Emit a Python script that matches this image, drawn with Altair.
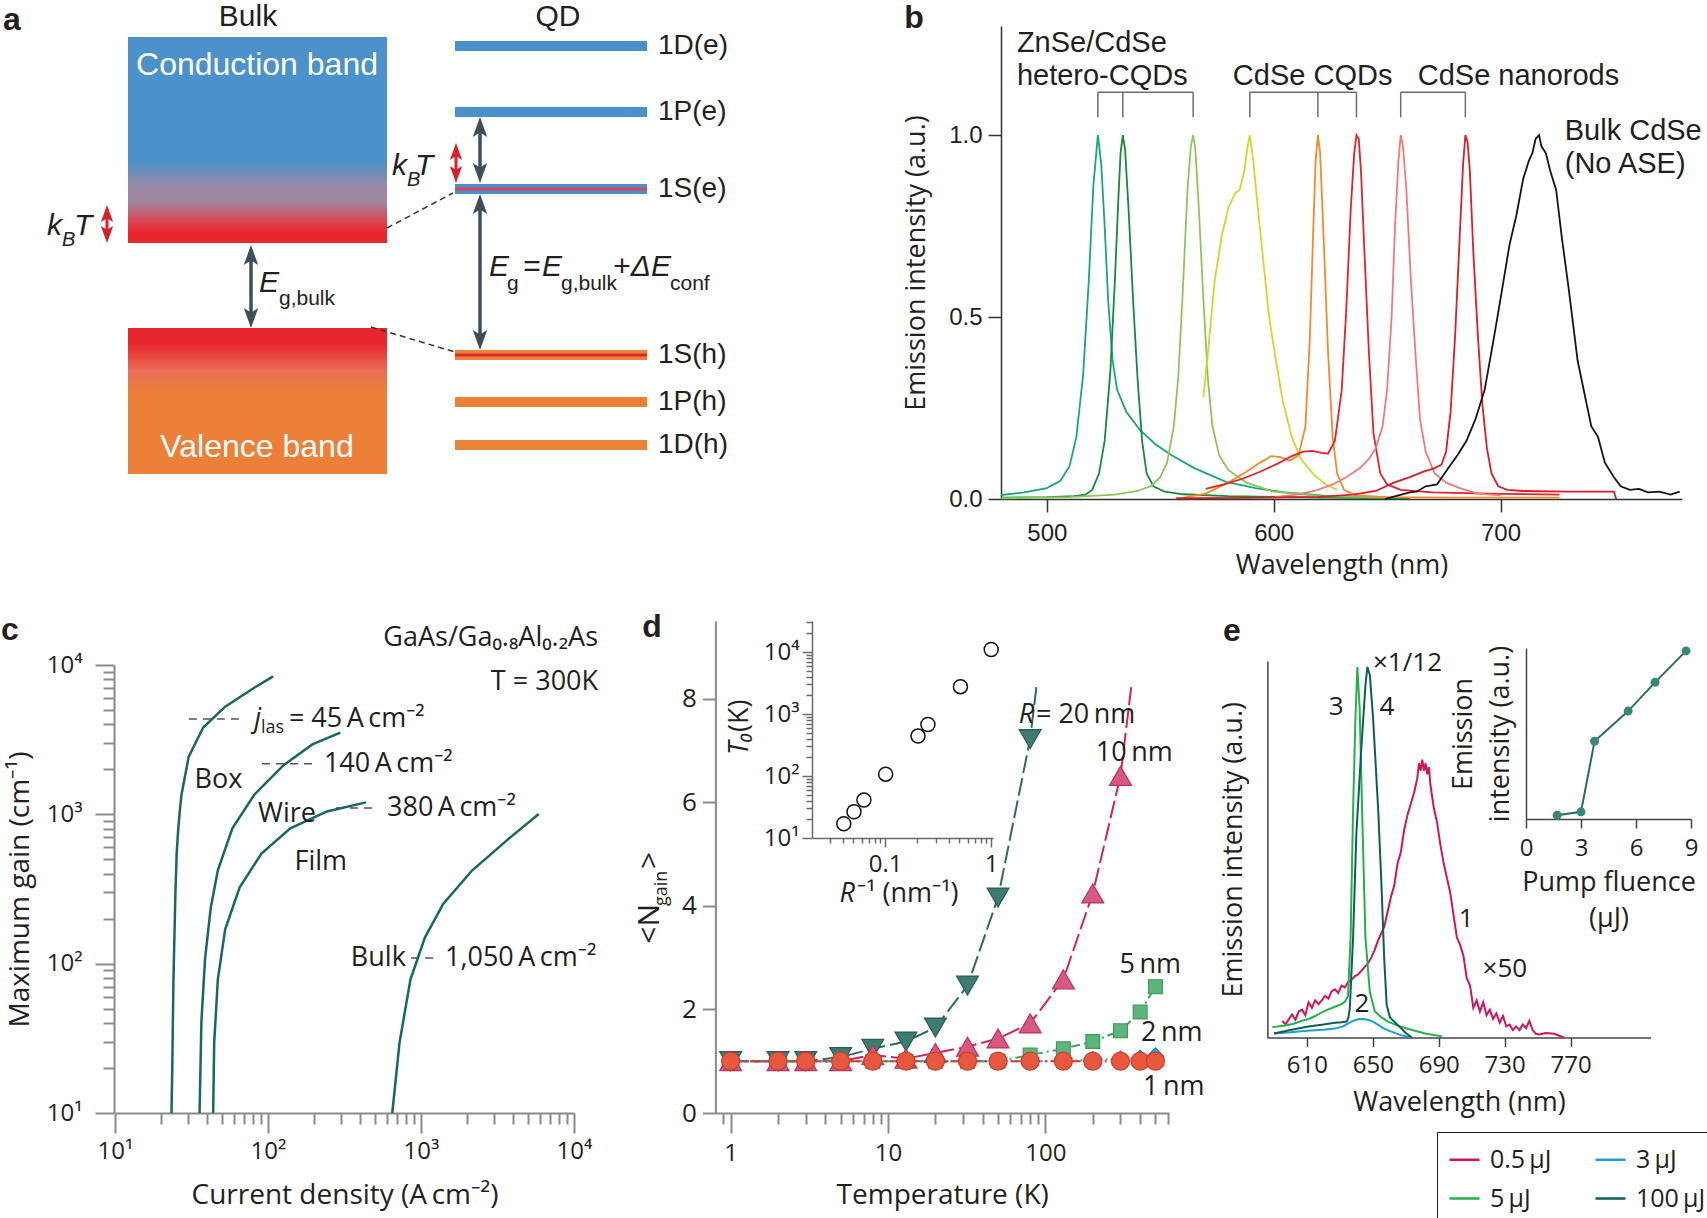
import altair as alt
import pandas as pd

W, H = 1707, 1218
ARIAL = "Liberation Sans, Arial, sans-serif"
HUMAN = "Open Sans, Noto Sans, DejaVu Sans, sans-serif"
INK = "#231f20"
THIN = "\u2009"

# ---------------- b: normalised emission spectra ----------------
b_names = ["ZnSe/CdSe 1", "ZnSe/CdSe 2", "ZnSe/CdSe 3", "CdSe CQD 1", "CdSe CQD 2",
           "CdSe CQD 3", "CdSe rod 1", "CdSe rod 2", "Bulk CdSe"]
b_colors = ["#17a77b", "#168a3b", "#8cc65a", "#d4d52c", "#f5892c",
            "#e2222b", "#f27a76", "#dc1d26", "#151515"]
b1_wl = [480, 490, 500, 506, 510, 513, 516, 518.5, 520.5, 522.5, 524, 525.5, 527, 529, 531, 535,
         541, 548, 555, 565, 579, 592, 604, 628, 660]
b1_int = [0.011, 0.018, 0.03, 0.05, 0.09, 0.17, 0.34, 0.6, 0.86, 1.0, 0.92, 0.75, 0.55, 0.38, 0.3,
          0.24, 0.19, 0.15, 0.12, 0.085, 0.047, 0.03, 0.019, 0.006, 0.003]
b2_wl = [480, 500, 512, 517, 520, 523, 525.5, 528, 530, 531.5, 532.5, 533.5, 534.5, 536, 538, 540,
         542, 544, 547, 552, 560, 580, 620, 660]
b2_int = [0.004, 0.005, 0.008, 0.012, 0.025, 0.07, 0.16, 0.35, 0.6, 0.82, 0.95, 1.0, 0.96, 0.8,
          0.55, 0.33, 0.16, 0.07, 0.035, 0.02, 0.013, 0.008, 0.004, 0.002]
b3_wl = [480, 510, 530, 540, 546, 550, 553, 556, 558, 560, 562, 563.5, 564.5, 565.5, 567, 569, 571,
         573, 576, 580, 588, 600, 620, 650]
b3_int = [0.002, 0.005, 0.012, 0.022, 0.036, 0.06, 0.1, 0.2, 0.34, 0.58, 0.85, 0.97, 1.0, 0.96,
          0.8, 0.55, 0.33, 0.2, 0.12, 0.08, 0.045, 0.02, 0.008, 0.004]
b4_wl = [569, 571, 574, 577, 580, 583, 585, 587, 588.5, 589.5, 591, 593, 595, 598, 601, 604, 608,
         612, 618, 623, 628]
b4_int = [0.28, 0.4, 0.6, 0.72, 0.8, 0.84, 0.85, 0.9, 0.97, 1.0, 0.93, 0.8, 0.68, 0.5, 0.38, 0.27,
          0.17, 0.11, 0.065, 0.04, 0.025]
b5_wl = [560, 570, 580, 588, 594, 599, 603, 607, 611, 614, 616, 617.5, 618.5, 619.5, 620.5, 622,
         624, 626, 628, 631, 636, 650, 680, 726]
b5_int = [0.003, 0.015, 0.045, 0.075, 0.1, 0.118, 0.115, 0.105, 0.12, 0.2, 0.45, 0.75, 0.93, 1.0,
          0.95, 0.72, 0.4, 0.17, 0.07, 0.025, 0.01, 0.005, 0.004, 0.004]
b6_wl = [570, 578, 586, 594, 602, 608, 613, 617, 621, 624, 627, 630, 632, 634, 635.5, 636.5, 637.5,
         638.5, 640, 642, 644, 647, 650, 656, 670, 700, 726]
b6_int = [0.028, 0.04, 0.055, 0.075, 0.098, 0.118, 0.13, 0.132, 0.127, 0.125, 0.16, 0.3, 0.52,
          0.8, 0.95, 1.0, 0.99, 0.9, 0.68, 0.4, 0.18, 0.07, 0.04, 0.025, 0.018, 0.014, 0.012]
b7_wl = [600, 610, 618, 626, 632, 638, 642, 645, 648, 650, 652, 653.5, 655, 656, 657, 658.5, 660.5,
         662.5, 664.5, 667, 671, 676, 682, 690, 700]
b7_int = [0.005, 0.012, 0.022, 0.04, 0.06, 0.085, 0.11, 0.14, 0.2, 0.3, 0.5, 0.75, 0.93, 1.0, 0.97,
          0.85, 0.6, 0.4, 0.22, 0.13, 0.07, 0.045, 0.03, 0.015, 0.01]
b8_wl = [557, 590, 620, 635, 645, 653, 660, 666, 671, 674, 676, 678, 680, 682, 683.5, 684.5, 685.5,
         686.5, 688, 690, 692, 694, 696, 699, 703, 710, 730, 750, 751]
b8_int = [0.002, 0.003, 0.006, 0.012, 0.022, 0.045, 0.06, 0.075, 0.085, 0.095, 0.13, 0.24, 0.45,
          0.72, 0.92, 1.0, 0.98, 0.9, 0.68, 0.45, 0.26, 0.14, 0.07, 0.035, 0.025, 0.022, 0.02,
          0.02, 0.0]
b9_wl = [649, 655, 660, 663, 667, 672, 677, 681, 685, 689, 693, 697, 700, 704, 707, 710, 712.5,
         714, 715.5, 717, 718, 720, 722, 724.5, 727, 730, 734, 737, 740, 743, 746, 750, 753, 757,
         761, 765, 770, 775, 779]
b9_int = [0.0, 0.01, 0.018, 0.02, 0.035, 0.04, 0.085, 0.12, 0.16, 0.22, 0.3, 0.44, 0.55, 0.7,
          0.78, 0.88, 0.93, 0.95, 0.99, 1.0, 0.97, 0.95, 0.9, 0.85, 0.72, 0.58, 0.38, 0.29, 0.2,
          0.17, 0.1, 0.06, 0.035, 0.025, 0.028, 0.018, 0.02, 0.012, 0.02]
b_spectra = [(b1_wl, b1_int), (b2_wl, b2_int), (b3_wl, b3_int), (b4_wl, b4_int), (b5_wl, b5_int),
             (b6_wl, b6_int), (b7_wl, b7_int), (b8_wl, b8_int), (b9_wl, b9_int)]
b_groups = [[0, 1, 2], [3, 4, 5], [6, 7]]

# ---------------- c: maximum gain vs current density ----------------
c_box_j = [23.4, 23.7, 24.1, 24.8, 25.3, 25.8, 26.5, 27.2, 30.3, 37.7, 52.5, 81.3, 108]
c_box_g = [10, 21.5, 78, 286, 546, 755, 1045, 1353, 2421, 3811, 5262, 7046, 8395]
c_wire_j = [35.7, 36.7, 38.8, 42.2, 47, 58.5, 81.3, 126, 195, 297]
c_wire_g = [10, 41, 108, 235, 422, 805, 1353, 2128, 2941, 3524]
c_film_j = [43.8, 44.5, 47, 52.5, 65.3, 90.6, 140, 243, 437]
c_film_g = [10, 29.6, 78.3, 170, 325, 546, 806, 1045, 1203]
c_bulk_j = [649, 724, 853, 1062, 1396, 2163, 3733, 5888]
c_bulk_g = [10, 29.6, 78.3, 150, 251, 422, 685, 1004]
c_dash_from = [30.4, 91.4, 278, 861]
c_dash_to = [69.7, 211, 524, 1254]
c_dash_gain = [4355, 2178, 1104, 109]

# ---------------- d: <N_gain> vs temperature ----------------
d_T = [1, 2, 3, 5, 8, 13, 20, 32, 50, 80, 130, 200, 300, 400, 500]
d_r20 = [1.0, 1.0, 1.0, 1.08, 1.24, 1.38, 1.65, 2.46, 4.16, 7.22]
d_r20_tail = (88, 8.27)
d_r10 = [1.0, 1.0, 1.0, 1.0, 1.12, 1.05, 1.16, 1.28, 1.44, 1.73, 2.58, 4.24, 6.51]
d_r10_tail = (352, 8.26)
d_r5 = [1.0, 1.0, 1.0, 1.0, 1.0, 1.0, 1.0, 1.0, 1.0, 1.12, 1.24, 1.38, 1.59, 1.95, 2.44]
d_r2 = [1.0, 1.0, 1.0, 1.0, 1.0, 1.0, 1.0, 1.0, 1.0, 1.0, 1.0, 1.03, 1.04, 1.06, 1.1]
d_r1 = [1.0, 1.0, 1.0, 1.0, 1.0, 1.0, 1.0, 1.0, 1.0, 1.0, 1.0, 1.0, 1.0, 1.0, 1.0]
d_inv_r = [0.0407, 0.0508, 0.063, 0.101, 0.204, 0.253, 0.513, 1.0]
d_t0 = [17, 26.5, 41, 107, 441, 676, 2760, 10970]

# ---------------- e: emission spectra vs pump fluence ----------------
e_names = ["0.5" + THIN + "μJ", "3" + THIN + "μJ", "5" + THIN + "μJ", "100" + THIN + "μJ"]
e_colors = ["#d4145a", "#1a9ed9", "#21b24b", "#0f5e55"]
e1_wl = [595, 597, 599, 601, 603, 605, 607, 609, 611, 613, 615, 617, 619, 621, 623, 625, 627, 629,
         631, 633, 635, 637, 639, 641, 643, 645, 647, 649, 651, 653, 655, 657, 659, 661, 663, 665,
         667, 669, 671, 673, 675, 677, 678, 679, 680, 681, 682, 683, 684, 685, 687, 689, 691, 693,
         695, 697, 699, 701, 703, 705, 707, 709, 711, 713, 715, 717, 719, 721, 723, 725, 727, 729,
         731, 733, 735, 737, 739, 741, 743, 745, 747, 749, 751, 755, 760, 766]
e1_int = [0.045, 0.035, 0.05, 0.062, 0.048, 0.07, 0.075, 0.06, 0.095, 0.08, 0.1, 0.09, 0.1, 0.112,
          0.105, 0.125, 0.13, 0.12, 0.14, 0.135, 0.15, 0.155, 0.165, 0.17, 0.18, 0.19, 0.2, 0.215,
          0.235, 0.26, 0.28, 0.3, 0.34, 0.38, 0.41, 0.47, 0.5, 0.56, 0.6, 0.63, 0.66, 0.7, 0.74,
          0.72, 0.75, 0.72, 0.74, 0.71, 0.73, 0.68, 0.62, 0.58, 0.52, 0.47, 0.43, 0.39, 0.33, 0.27,
          0.25, 0.22, 0.16, 0.14, 0.08, 0.1, 0.07, 0.095, 0.06, 0.075, 0.05, 0.065, 0.04, 0.058,
          0.03, 0.035, 0.02, 0.03, 0.02, 0.035, 0.025, 0.045, 0.02, 0.01, 0.008, 0.012, 0.01, 0.0]
e2_wl = [590, 600, 610, 620, 627, 632, 635, 638, 641, 644, 647, 650, 653, 656, 660, 664, 668, 673.7]
e2_int = [0.011, 0.014, 0.018, 0.021, 0.024, 0.03, 0.038, 0.045, 0.049, 0.05, 0.048, 0.043, 0.035,
          0.026, 0.018, 0.011, 0.005, 0.0]
e3_wl = [589, 596, 602, 607, 611, 615, 619, 623, 627, 631, 633, 634.9, 636.5, 638, 639.4, 640.6,
         642, 643.5, 645.5, 648.2, 651.2, 655, 659.4, 665, 671.6, 681.8, 692]
e3_int = [0.028, 0.032, 0.037, 0.045, 0.05, 0.058, 0.068, 0.076, 0.083, 0.09, 0.096, 0.111, 0.27,
          0.61, 0.858, 1.0, 0.89, 0.61, 0.27, 0.122, 0.071, 0.055, 0.043, 0.032, 0.023, 0.011, 0.003]
e4_wl = [590, 600, 610, 620, 627, 631, 634, 635, 636, 638, 640, 643, 645.5, 646.7, 648.2, 650.2,
         653.3, 655.3, 656.9, 658.4, 660.4, 665.5, 670, 673.7]
e4_int = [0.011, 0.02, 0.029, 0.035, 0.04, 0.041, 0.043, 0.05, 0.077, 0.27, 0.55, 0.78, 0.95, 1.0,
          0.978, 0.858, 0.61, 0.405, 0.213, 0.088, 0.054, 0.032, 0.012, 0.0]
e_spectra = [(e1_wl, e1_int), (e2_wl, e2_int), (e3_wl, e3_int), (e4_wl, e4_int)]
e_fluence = [1.7, 3.0, 3.74, 5.57, 7.04, 8.73]
e_emission = [0.022, 0.042, 0.455, 0.631, 0.799, 0.983]

qd_levels = ["1D(e)", "1P(e)", "1S(e)", "1S(h)", "1P(h)", "1D(h)"]


# ---------------- helpers ----------------
def sc(domain, rng, log=False):
    if log:
        return alt.Scale(type="log", domain=domain, range=rng, nice=False)
    return alt.Scale(type="linear", domain=domain, range=rng, nice=False, zero=False)


def xy(sx, sy, xa=None, ya=None, xf="x", yf="y"):
    return dict(x=alt.X(f"{xf}:Q", scale=sx, axis=xa), y=alt.Y(f"{yf}:Q", scale=sy, axis=ya))


def texts(rows, sx, sy, **style):
    kw = dict(font=HUMAN, fontSize=26, color=INK, align="left", baseline="middle")
    kw.update(style)
    df = pd.DataFrame(rows, columns=["t", "x", "y"])
    return alt.Chart(df).mark_text(**kw).encode(text="t:N", **xy(sx, sy))


def segments(rows, sx, sy, **style):
    df = pd.DataFrame(rows, columns=["x", "x2", "y", "y2"])
    return alt.Chart(df).mark_rule(**style).encode(x2="x2:Q", y2="y2:Q", **xy(sx, sy))


def axis(orient, offset, color, title="", values=None, tick=12, lfont=HUMAN, lsize=24, lpad=6,
         tsize=27, tpad=10, width=1.5, **kw):
    spec = dict(orient=orient, offset=offset, grid=False, domainColor=color, domainWidth=width,
                tickColor=color, tickWidth=width, tickSize=tick, labelFont=lfont,
                labelFontSize=lsize, labelColor=INK, labelPadding=lpad, labelFlush=False,
                labelOverlap=False, title=title, titleFont=HUMAN, titleFontSize=tsize,
                titleFontWeight="normal", titleColor=INK, titlePadding=tpad)
    if values is not None:
        spec["values"] = values
    spec.update(kw)
    return alt.Axis(**spec)


def axis_unit(sx, sy, x0, y0, xa=None, ya=None):
    # an invisible point whose only job is to carry a pair of axes for a panel's scales
    return alt.Chart(pd.DataFrame({"x": [x0], "y": [y0]})).mark_point(opacity=0).encode(
        **xy(sx, sy, xa, ya))


def minor_ticks(sx, sy, x0, y0, xvals=None, yvals=None, xoff=0, yoff=0, color="#888",
                xtick=10, ytick=10, width=1.5):
    xa = alt.Axis(orient="bottom", offset=xoff, values=xvals, labels=False, domain=False,
                  grid=False, tickSize=xtick, tickColor=color, tickWidth=width,
                  title="") if xvals else None
    ya = alt.Axis(orient="left", offset=yoff, values=yvals, labels=False, domain=False,
                  grid=False, tickSize=ytick, tickColor=color, tickWidth=width,
                  title="") if yvals else None
    return axis_unit(sx, sy, x0, y0, xa, ya)


def decades_between(lo, hi, mults):
    vals = []
    d = lo
    while d < hi:
        vals += [m * d for m in mults]
        d *= 10
    return vals


POW = "'10' + ['\u2070','\u00b9','\u00b2','\u00b3','\u2074','\u2075'][round(log(datum.value)/LN10)]"

# ---------------- page layer: schematic a, panel letters, composite titles ----------------
PX = sc([0, W], [0, W])
PY = sc([0, H], [0, H])
BLUE, ORANGE, RED, DARK = "#4a90cb", "#ec8138", "#d71f2b", "#3c4e59"

cb_grad = alt.LinearGradient(gradient="linear", x1=0, x2=0, y1=0, y2=1, stops=[
    alt.GradientStop(offset=0, color="#4b91cb"), alt.GradientStop(offset=0.6, color="#4b91cb"),
    alt.GradientStop(offset=0.72, color="#9789a8"), alt.GradientStop(offset=0.8, color="#a3879d"),
    alt.GradientStop(offset=0.9, color="#de4150"), alt.GradientStop(offset=0.95, color="#e8262d"),
    alt.GradientStop(offset=1, color="#e8262d")])
vb_grad = alt.LinearGradient(gradient="linear", x1=0, x2=0, y1=0, y2=1, stops=[
    alt.GradientStop(offset=0, color="#e8262d"), alt.GradientStop(offset=0.1, color="#e8262d"),
    alt.GradientStop(offset=0.3, color="#ea6e57"), alt.GradientStop(offset=0.45, color="#ec8039"),
    alt.GradientStop(offset=1, color="#ec8039")])


def band(x0, x1, y0, y1, grad):
    df = pd.DataFrame({"x": [x0], "x2": [x1], "y": [y0], "y2": [y1]})
    return alt.Chart(df).mark_rect(fill=grad).encode(x2="x2:Q", y2="y2:Q", **xy(PX, PY))


level_y = [46, 112, 189, 355, 402, 445]
levels_df = pd.DataFrame({"x": 455, "x2": 647, "y": level_y,
                          "c": [BLUE, BLUE, BLUE, ORANGE, ORANGE, ORANGE]})
levels = alt.Chart(levels_df).mark_rule(strokeWidth=10).encode(
    x2="x2:Q", color=alt.Color("c:N", scale=None), **xy(PX, PY))
stripes_df = pd.DataFrame({"x": 455, "x2": 647, "y": [189, 355], "c": ["#d9435a", "#e3262d"]})
stripes = alt.Chart(stripes_df).mark_rule(strokeWidth=3).encode(
    x2="x2:Q", color=alt.Color("c:N", scale=None), **xy(PX, PY))

UP = "M0,-1L0.72,1L0,0.55L-0.72,1Z"
DOWN = "M0,1L0.72,-1L0,-0.55L-0.72,-1Z"
arrow_spec = [(251, 245, 328, DARK, 20, 3.5), (480, 117, 183, DARK, 20, 3.5),
              (480, 194, 350, DARK, 20, 3.5), (107, 205, 243, RED, 17, 3),
              (456, 143, 183, RED, 17, 3)]
stem_df = pd.DataFrame([(x, x, t + 0.7 * L, b - 0.7 * L, c, w) for x, t, b, c, L, w in arrow_spec],
                       columns=["x", "x2", "y", "y2", "c", "w"])
stems = alt.Chart(stem_df).mark_rule().encode(
    x2="x2:Q", y2="y2:Q", color=alt.Color("c:N", scale=None),
    strokeWidth=alt.StrokeWidth("w:Q", scale=None), **xy(PX, PY))
head_rows = []
for x, t, b, c, L, w in arrow_spec:
    head_rows.append((x, t + L / 2, UP, c, L * L))
    head_rows.append((x, b - L / 2, DOWN, c, L * L))
heads = alt.Chart(pd.DataFrame(head_rows, columns=["x", "y", "p", "c", "s"])).mark_point(
    filled=True, opacity=1, strokeWidth=0).encode(
    shape=alt.Shape("p:N", scale=None), color=alt.Color("c:N", scale=None),
    size=alt.Size("s:Q", scale=None), **xy(PX, PY))

connectors = segments([(387, 453, 228, 193), (371, 455, 327, 352)], PX, PY,
                      color="#333333", strokeWidth=1.5, strokeDash=[6, 4])

page_layers = [
    band(128, 387, 37, 243, cb_grad), band(128, 387, 328, 474, vb_grad),
    levels, stripes, stems, heads, connectors,
    texts([("Bulk", 248, 17), ("QD", 558, 17)], PX, PY, font=ARIAL, fontSize=30, align="center"),
    texts([("Conduction band", 257, 65), ("Valence band", 257, 447)], PX, PY, font=ARIAL,
          fontSize=32, align="center", color="white"),
    texts(list(zip(qd_levels, [658] * 6, level_y)), PX, PY, font=ARIAL, fontSize=28),
    texts([("k", 62, 226), ("k", 407, 166), ("E", 279, 283), ("E", 509, 267), ("E", 562, 267),
           ("ΔE", 671, 267)], PX, PY, font=ARIAL, fontSize=30, fontStyle="italic", align="right"),
    texts([("B", 62, 240), ("B", 407, 180)], PX, PY, font=ARIAL, fontSize=20,
          fontStyle="italic"),
    texts([("T", 74, 226), ("T", 415, 166)], PX, PY, font=ARIAL, fontSize=30,
          fontStyle="italic"),
    texts([("g,bulk", 279, 299), ("g", 507, 284), ("g,bulk", 561, 284), ("conf", 670, 284)],
          PX, PY, font=ARIAL, fontSize=21),
    texts([("=", 532, 267), ("+", 622, 267)], PX, PY, font=ARIAL, fontSize=30, align="center"),
    # panel letters
    texts([("a", 12, 20), ("b", 914, 18), ("c", 10, 630), ("d", 652, 627), ("e", 1232, 631)],
          PX, PY, font=ARIAL, fontSize=32, fontWeight="bold", align="center"),
    # <N_gain> title of d
    texts([("<N", 650, 904)], PX, PY, fontSize=30, angle=270, align="right"),
    texts([("gain", 662, 906)], PX, PY, fontSize=18, angle=270),
    texts([(">", 650, 869)], PX, PY, fontSize=30, angle=270),
    # inset titles of d
    texts([("T\u2080", 740, 732)], PX, PY, fontSize=27, angle=270, align="right",
          fontStyle="italic"),
    texts([(" (K)", 740, 732)], PX, PY, fontSize=27, angle=270),
    texts([("R", 855, 894)], PX, PY, fontSize=27, align="right", fontStyle="italic"),
    texts([("\u207b\u00b9 (nm\u207b\u00b9)", 857, 894)], PX, PY, fontSize=27),
]
page = alt.layer(*page_layers)

# ---------------- b ----------------
BX = sc([479.8, 780], [1001, 1682])
BY = sc([0, 1.3], [499, 26])
b_rows = []
for name, (wl, it) in zip(b_names, b_spectra):
    for k, (w_, v_) in enumerate(zip(wl, it)):
        b_rows.append((name, w_, v_, k))
b_df = pd.DataFrame(b_rows, columns=["s", "x", "y", "k"])
b_axes = axis_unit(
    BX, BY, 600, 0.5,
    axis("bottom", 499 - H, "#333333", title="Wavelength (nm)", values=[500, 600, 700],
         tick=13, lfont=ARIAL, lsize=24, lpad=9, tpad=7),
    axis("left", -1001, "#333333", title="Emission intensity (a.u.)", values=[0, 0.5, 1.0],
         tick=13, lfont=ARIAL, lsize=24, lpad=6, tpad=18, format=".1f"))
b_lines = alt.Chart(b_df).mark_line(strokeWidth=1.8).encode(
    color=alt.Color("s:N", scale=alt.Scale(domain=b_names, range=b_colors), legend=None),
    order="k:Q", **xy(BX, BY))
b_peak = [wl[it.index(max(it))] for wl, it in b_spectra]
bracket_rows = []
for g in b_groups:
    ps = [b_peak[i] for i in g]
    bracket_rows.append((min(ps), max(ps), 1.118, 1.118))
    for p in ps:
        bracket_rows.append((p, p, 1.049, 1.118))
b_brackets = segments(bracket_rows, BX, BY, color="#6d6e71", strokeWidth=1.5)
b_text = texts([("ZnSe/CdSe", 486.8, 1.253), ("hetero-CQDs", 486.8, 1.162),
                ("CdSe CQDs", 582, 1.162), ("CdSe nanorods", 663.5, 1.162),
                ("Bulk CdSe", 728.3, 1.011), ("(No ASE)", 728.3, 0.92)],
               BX, BY, font=ARIAL, fontSize=29)
panel_b = alt.layer(b_brackets, b_lines, b_text)

# ---------------- c ----------------
CX = sc([10, 10000], [115, 574], log=True)
CY = sc([10, 10000], [1113, 665], log=True)
CGRAY = "#8a8a8a"
c_rows = []
for name, js, gs in [("Box", c_box_j, c_box_g), ("Wire", c_wire_j, c_wire_g),
                     ("Film", c_film_j, c_film_g), ("Bulk", c_bulk_j, c_bulk_g)]:
    for k, (j, g) in enumerate(zip(js, gs)):
        c_rows.append((name, j, g, k))
c_df = pd.DataFrame(c_rows, columns=["s", "x", "y", "k"])
c_axes = axis_unit(
    CX, CY, 100, 100,
    axis("bottom", 1113 - H, CGRAY, title="Current density (A" + THIN + "cm\u207b\u00b2)",
         values=[10, 100, 1000, 10000], tick=20, lpad=6, tsize=28, tpad=18, width=2,
         labelExpr=POW),
    axis("left", -114, CGRAY, title="Maximum gain (cm\u207b\u00b9)",
         values=[10, 100, 1000, 10000], tick=19, lpad=13, tsize=28, tpad=12, width=2,
         labelExpr=POW))
c_lines = alt.Chart(c_df).mark_line(strokeWidth=2.5, color="#17695d").encode(
    detail="s:N", order="k:Q", **xy(CX, CY))
c_dashes = segments(list(zip(c_dash_from, c_dash_to, c_dash_gain, c_dash_gain)), CX, CY,
                    color="#555555", strokeWidth=1.5, strokeDash=[8, 6])
A_CM2 = THIN + "A" + THIN + "cm\u207b\u00b2"
panel_c = alt.layer(
    c_dashes, c_lines,
    texts([("j", 90, 4355)], CX, CY, fontSize=27, fontStyle="italic", align="right"),
    texts([("las", 90, 3793)], CX, CY, fontSize=18),
    texts([("= 45" + A_CM2, 137, 4355), ("140" + A_CM2, 232, 2178),
           ("380" + A_CM2, 600, 1104), ("1,050" + A_CM2, 1436, 109), ("Bulk", 348, 109),
           ("Box", 33.1, 1698), ("Wire", 86.1, 1007), ("Film", 149, 480)],
          CX, CY, fontSize=27),
    texts([("GaAs/Ga\u2080.\u2088Al\u2080.\u2082As", 14360, 15170), ("T = 300K", 14360, 7709)],
          CX, CY, fontSize=27, align="right"),
)
c_minor = minor_ticks(CX, CY, 100, 100,
                      xvals=decades_between(10, 10000, [2, 3, 4, 5, 6, 7, 8, 9]),
                      yvals=decades_between(10, 10000, [2, 3, 4, 5, 6, 7, 8, 9]),
                      xoff=1113 - H, yoff=-114, color=CGRAY, xtick=11, ytick=11, width=2)

# ---------------- d ----------------
DX = sc([0.8, 610], [715.4, 1169], log=True)
DY = sc([0, 9.5], [1113, 621])
DGRAY = "#8a8a8a"
d_axes = axis_unit(
    DX, DY, 10, 1,
    axis("bottom", 1113 - H, DGRAY, title="Temperature (K)", values=[1, 10, 100],
         tick=20, lpad=8, tsize=28, tpad=16, width=2, format="d"),
    axis("left", -715.4, DGRAY, title="", values=[0, 2, 4, 6, 8], tick=13, lpad=6,
         lsize=26, width=2))
d_series = [
    # values, line tail, dash, line colour, shape, fill, stroke, size
    (d_r20, d_r20_tail, [18, 5], "#2d6b61", "triangle-down", "#3e7b70", "#2a5d54", 480),
    (d_r10, d_r10_tail, [18, 5], "#d2235f", "triangle-up", "#d8597f", "#c0305e", 480),
    (d_r5, None, [9, 4, 2, 4], "#3aa45f", "square", "#5cb57a", "#3f9a5c", 190),
    (d_r2, None, [2, 3], "#1aa0dc", "diamond", "#25a8e0", "#1588c0", 260),
    (d_r1, None, [10, 4, 2, 4], "#e0382a", "circle", "#e8583e", "#cf3b2b", 324),
]
d_line_layers, d_point_layers = [], []
for vals, tail, dash, lc, shp, fc, stc, size in d_series:
    ts = d_T[:len(vals)]
    line_df = pd.DataFrame({"x": ts + ([tail[0]] if tail else []),
                            "y": vals + ([tail[1]] if tail else [])})
    pt_df = pd.DataFrame({"x": ts, "y": vals})
    d_line_layers.append(alt.Chart(line_df).mark_line(
        color=lc, strokeWidth=2, strokeDash=dash).encode(**xy(DX, DY)))
    d_point_layers.append(alt.Chart(pt_df).mark_point(
        shape=shp, filled=True, fill=fc, stroke=stc, strokeWidth=1.2, size=size,
        opacity=1).encode(**xy(DX, DY)))
panel_d = alt.layer(
    *d_line_layers, *d_point_layers,
    texts([("R", 85, 7.68)], DX, DY, fontSize=27, fontStyle="italic", align="right"),
    texts([(" = 20" + THIN + "nm", 87.1, 7.68), ("10" + THIN + "nm", 209, 6.95),
           ("5" + THIN + "nm", 296, 2.86), ("2" + THIN + "nm", 405, 1.54),
           ("1" + THIN + "nm", 417, 0.5)], DX, DY, fontSize=27),
)
d_minor = minor_ticks(DX, DY, 10, 1,
                      xvals=[0.9] + decades_between(1, 100, [2, 3, 4, 5, 6, 7, 8, 9])
                      + [200, 300, 400, 500, 600],
                      xoff=1113 - H, color=DGRAY, xtick=11, width=2)

# inset of d: T0 vs 1/R
DIX = sc([0.0204, 1.04], [812, 993], log=True)
DIY = sc([10, 31623], [838, 621], log=True)
di_xaxis = axis("bottom", 838 - H, "#6a6a6a", values=[0.1, 1], tick=9, lpad=5,
                labelExpr="datum.value < 0.5 ? '0.1' : '1'")
di_yaxis = axis("left", -812, "#6a6a6a", values=[10, 100, 1000, 10000], tick=10, lpad=3,
                labelExpr=POW)
inset_d = alt.Chart(pd.DataFrame({"x": d_inv_r, "y": d_t0})).mark_point(
    shape="circle", filled=False, color="#111111", strokeWidth=1.5, size=196, opacity=1).encode(
    **xy(DIX, DIY, di_xaxis, di_yaxis))
di_minor = minor_ticks(DIX, DIY, 0.1, 100,
                       xvals=[0.03, 0.04, 0.05, 0.06, 0.07, 0.08, 0.09,
                              0.2, 0.3, 0.4, 0.5, 0.6, 0.7, 0.8, 0.9],
                       yvals=decades_between(10, 10000, [2, 3, 4, 5, 6, 7, 8, 9]) + [20000, 30000],
                       xoff=838 - H, yoff=-812, color="#6a6a6a", xtick=5, ytick=6)

# ---------------- e ----------------
EX = sc([586, 818.6], [1267.4, 1650.6])
EY = sc([0, 1.016], [1037.5, 661])
e_rows = []
for name, (wl, it) in zip(e_names, e_spectra):
    for k, (w_, v_) in enumerate(zip(wl, it)):
        e_rows.append((name, w_, v_, k))
e_df = pd.DataFrame(e_rows, columns=["s", "x", "y", "k"])
e_axes = axis_unit(
    EX, EY, 700, 0.5,
    axis("bottom", 1037.5 - H, "#444444", title="Wavelength (nm)",
         values=[610, 650, 690, 730, 770], tick=9, lpad=7, tsize=27, tpad=12, format="d"),
    axis("left", -1267.4, "#444444", title="Emission intensity (a.u.)", ticks=False,
         labels=False, tsize=27, tpad=20))
e_legend = alt.Legend(orient="none", legendX=1437, legendY=1132, columns=2,
                      direction="horizontal", title=None, strokeColor=INK, padding=11,
                      symbolType="stroke", symbolSize=900, symbolStrokeWidth=2.5,
                      labelFont=HUMAN, labelFontSize=25, labelColor=INK, labelOffset=9,
                      columnPadding=38, rowPadding=9)
e_lines = alt.Chart(e_df).mark_line(strokeWidth=2).encode(
    color=alt.Color("s:N", scale=alt.Scale(domain=e_names, range=e_colors), legend=e_legend,
                    sort=e_names),
    order="k:Q", **xy(EX, EY))
panel_e = alt.layer(
    e_lines,
    texts([("\u00d71/12", 650.1, 1.011), ("\u00d750", 716.6, 0.185)], EX, EY, fontSize=26),
    texts([("3", 627.7, 0.892), ("4", 658.6, 0.892), ("1", 706.6, 0.32), ("2", 643.4, 0.09)],
          EX, EY, fontSize=26, align="center"),
)

# inset of e: integrated emission vs pump fluence
EIX = sc([0, 9], [1526, 1691])
EIY = sc([0, 1], [819, 648])
ei_df = pd.DataFrame({"x": e_fluence, "y": e_emission})
ei_axes = axis_unit(
    EIX, EIY, 4, 0.5,
    axis("bottom", 819 - H, "#444444", title=["Pump fluence", "(\u03bcJ)"],
         values=[0, 3, 6, 9], tick=9, lpad=8, tsize=27, tpad=9, titleLineHeight=36,
         format="d"),
    axis("left", -1526, "#444444", title=["Emission", "intensity (a.u.)"], ticks=False,
         labels=False, tsize=27, tpad=12, titleLineHeight=37))
inset_e = alt.layer(
    alt.Chart(ei_df).mark_line(color="#24705f", strokeWidth=2).encode(**xy(EIX, EIY)),
    alt.Chart(ei_df).mark_point(filled=True, color="#3b8777", size=81, opacity=1).encode(
        **xy(EIX, EIY)),
)

chart = alt.layer(
    page, panel_b, b_axes, panel_c, c_axes, c_minor, panel_d, d_axes, d_minor,
    inset_d, di_minor, panel_e, e_axes, inset_e, ei_axes
).resolve_scale(
    x="independent", y="independent", color="independent"
).properties(
    width=W, height=H, padding=0, background="white",
    autosize=alt.AutoSizeParams(type="none"),
).configure_view(strokeWidth=0)

chart.save("out.html", embed_options={"renderer": "svg", "actions": False})
